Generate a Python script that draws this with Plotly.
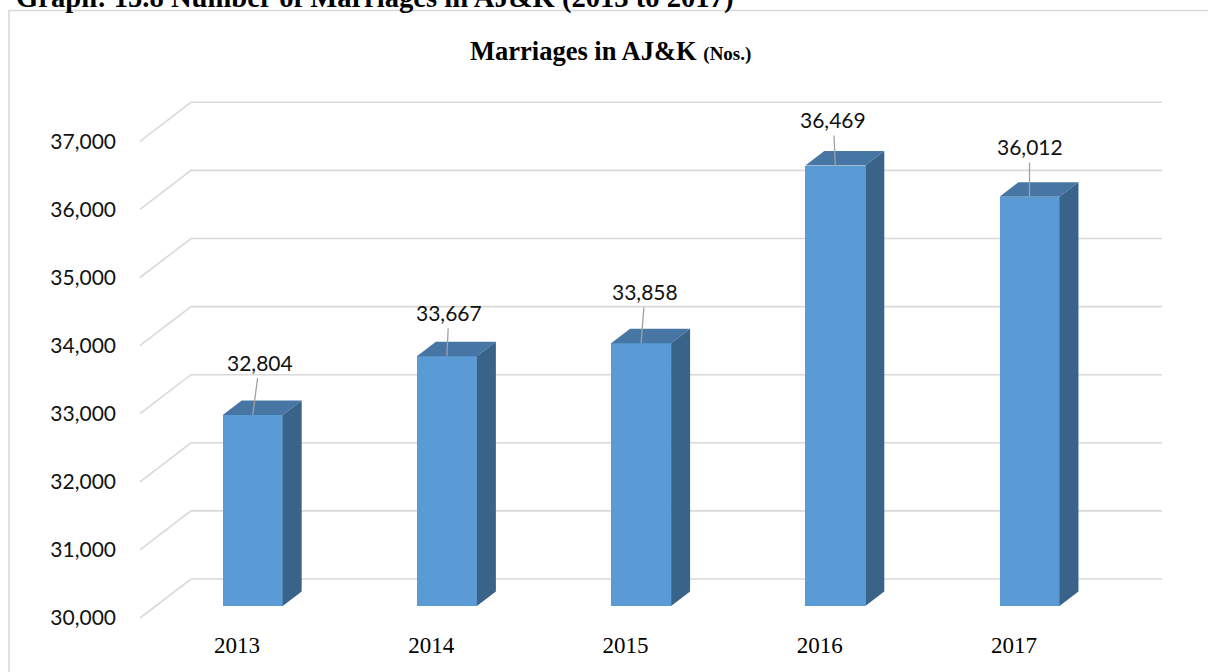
import plotly.graph_objects as go

# ---------------- data ----------------
years = ["2013", "2014", "2015", "2016", "2017"]
marriages = [32804, 33667, 33858, 36469, 36012]
y_tick_values = [30000, 31000, 32000, 33000, 34000, 35000, 36000, 37000]
heading_text = "Graph: 15.8 Number of Marriages in AJ&K (2013 to 2017)"
title_text = "Marriages in AJ&K"
unit_text = "(Nos.)"

# data-label text offsets (pixels, relative to bar top)
label_dx = [7, 2, 4, -2, 0]
label_dy = [-53, -44, -52, -46, -50]

# ---------------- geometry / style ----------------
W, H = 1208, 672
ML, MR, MT, MB = 138, 46, 98, 52
PW = W - ML - MR
PH = H - MT - MB
PX_PER_CAT = 194.2
PX_PER_Y = 0.0681
floor_left_px = 140
base_px = 618
y_base = y_tick_values[0]

x_lo = -0.5 - (floor_left_px - ML) / PX_PER_CAT
x_hi = x_lo + PW / PX_PER_CAT
y_lo = y_base - ((H - MB) - base_px) / PX_PER_Y
y_hi = y_lo + PH / PX_PER_Y

DX = 51 / PX_PER_CAT          # full depth of floor, x units
DY = 39 / PX_PER_Y            # full depth of floor, y units
front_frac, back_frac = 0.306, 0.678
FDX, FDY = front_frac * DX, front_frac * DY
BDX, BDY = (back_frac - front_frac) * DX, (back_frac - front_frac) * DY
BW = 60 / PX_PER_CAT

FRONT = "#5B9BD5"
TOP = "#4776A5"
SIDE = "#3A6389"
GRID = "#D9D9D9"


def px2paper_x(px):
    return (px - ML) / PW


def px2paper_y(py):
    return ((H - MB) - py) / PH


fig = go.Figure()

# front faces
fig.add_trace(go.Bar(
    x=[i + FDX for i in range(len(years))],
    y=[v - y_base for v in marriages],
    base=y_base + FDY,
    width=BW,
    marker=dict(color=FRONT, line=dict(width=0)),
    hoverinfo="skip",
    showlegend=False,
))

# top and side faces
tx, ty, sx, sy = [], [], [], []
for i, v in enumerate(marriages):
    xl = i + FDX - BW / 2
    xr = xl + BW
    yt = v + FDY
    yb = y_base + FDY
    tx += [xl, xr, xr + BDX, xl + BDX, xl, None]
    ty += [yt, yt, yt + BDY, yt + BDY, yt, None]
    sx += [xr, xr, xr + BDX, xr + BDX, xr, None]
    sy += [yb, yt, yt + BDY, yb + BDY, yb, None]

fig.add_trace(go.Scatter(x=tx, y=ty, mode="lines", fill="toself", fillcolor=TOP,
                         line=dict(width=0, color=TOP), hoverinfo="skip", showlegend=False))
fig.add_trace(go.Scatter(x=sx, y=sy, mode="lines", fill="toself", fillcolor=SIDE,
                         line=dict(width=0, color=SIDE), hoverinfo="skip", showlegend=False))

# gridlines (floor diagonal + back wall)
shapes = []
for v in y_tick_values:
    path = f"M {-0.5},{v} L {-0.5 + DX},{v + DY} L {x_hi + 0.05},{v + DY}"
    shapes.append(dict(type="path", path=path, xref="x", yref="y", layer="below",
                       line=dict(color=GRID, width=1.6)))

# outer frame
frame_path = (f"M {px2paper_x(9)},{px2paper_y(700)} L {px2paper_x(9)},{px2paper_y(10.5)} "
              f"L {px2paper_x(1230)},{px2paper_y(10.5)}")
shapes.append(dict(type="path", path=frame_path, xref="paper", yref="paper",
                   line=dict(color=GRID, width=1.6)))

annotations = []
for i, v in enumerate(marriages):
    annotations.append(dict(
        x=i + FDX, y=v + FDY, xref="x", yref="y",
        text=f"{v:,}", showarrow=True, arrowhead=0, arrowwidth=1.3,
        arrowcolor="#A0A0A0", ax=label_dx[i], ay=label_dy[i], borderpad=3,
        font=dict(family="Lato", size=21, color="#111111"),
    ))

annotations.append(dict(
    x=px2paper_x(14), y=px2paper_y(-2.5), xref="paper", yref="paper",
    xanchor="left", yanchor="middle", showarrow=False,
    text=f"<b>{heading_text}</b>",
    font=dict(family="Liberation Serif", size=28.6, color="#000000"),
))
annotations.append(dict(
    x=px2paper_x(610.5), y=px2paper_y(50.5), xref="paper", yref="paper",
    xanchor="center", yanchor="middle", showarrow=False,
    text=f"<b>{title_text} <span style='font-size:19px'>{unit_text}</span></b>",
    font=dict(family="Liberation Serif", size=26.5, color="#000000"),
))

fig.update_layout(
    width=W, height=H,
    margin=dict(l=ML, r=MR, t=MT, b=MB, pad=0),
    paper_bgcolor="white", plot_bgcolor="white",
    shapes=shapes, annotations=annotations,
    bargap=0, showlegend=False,
    xaxis=dict(range=[x_lo, x_hi], tickmode="array", tickvals=list(range(len(years))),
               ticktext=years, showgrid=False, zeroline=False, showline=False, ticks="",
               ticklabelstandoff=9,
               tickfont=dict(family="Liberation Serif", size=23, color="#000000")),
    yaxis=dict(range=[y_lo, y_hi], tickmode="array", tickvals=y_tick_values,
               tickformat=",", showgrid=False, zeroline=False, showline=False, ticks="",
               ticklabelstandoff=21,
               tickfont=dict(family="Lato", size=21, color="#111111")),
)

fig.write_html("out.html", config={"displayModeBar": False},
               post_script="document.body.style.margin='0px';document.body.style.overflow='hidden';")
